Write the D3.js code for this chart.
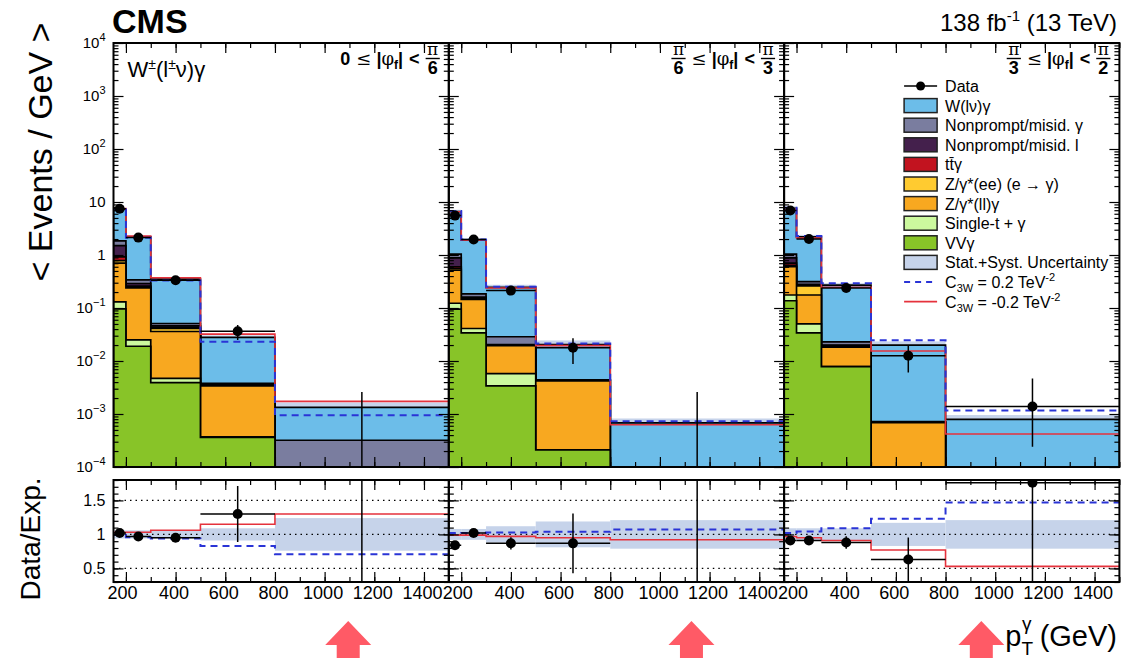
<!DOCTYPE html>
<html>
<head>
<meta charset="utf-8">
<script src="https://cdn.jsdelivr.net/npm/d3@7"></script>
<style>
  body { margin: 0; background: #fff; }
  svg { font-family: "Liberation Sans", Arial, Helvetica, sans-serif; }
</style>
</head>
<body>
<svg id="chart" width="1122" height="658"></svg>
<script>
// ---- binning and labels ----
const binEdges = [150, 200, 300, 500, 800, 1500];
const xTickLabels = [200, 400, 600, 800, 1000, 1200, 1400];
const yDecades = [-4, -3, -2, -1, 0, 1, 2, 3, 4];
const ratioTicks = [0.5, 1, 1.5];
// |phi_f| slices: lower / upper bound as numerator over denominator
const phiLowNum = ["0", "π", "π"];
const phiLowDen = [null, "6", "3"];
const phiHighNum = ["π", "π", "π"];
const phiHighDen = ["6", "3", "2"];

// ---- expected yields (events / GeV), one row per |phi_f| slice ----
const vvg     = [[0.096, 0.019, 0.0039, 0.00036, 0.00002], [0.095, 0.034, 0.0034, 0.00021, 0.00001], [0.137, 0.034, 0.0078, 0.00008, 0.00001]];
const singleT = [[0.034, 0.006, 0.0008, 0.00001, 0], [0.028, 0.007, 0.0024, 0, 0], [0.039, 0.016, 0, 0, 0]];
const zllg    = [[0.57, 0.215, 0.0313, 0.00303, 0.00001], [0.397, 0.104, 0.0137, 0.00399, 0.00001], [0.424, 0.126, 0.0105, 0.00061, 0.00001]];
const zee     = [[0.08, 0.01, 0.005, 0.0001, 0], [0.04, 0.005, 0.0003, 0.0001, 0], [0.04, 0.084, 0.0007, 0.00001, 0]];
const ttg     = [[0.14, 0.01, 0.002, 0.0001, 0], [0.04, 0.005, 0.0002, 0, 0], [0.06, 0.01, 0.0005, 0, 0]];
const npLep   = [[0.58, 0.03, 0.003, 0.0001, 0.00001], [0.28, 0.005, 0.0005, 0.0001, 0], [0.18, 0.01, 0.0005, 0, 0]];
const npPho   = [[0.35, 0.05, 0.005, 0.0001, 0.00028], [0.16, 0.024, 0.0082, 0, 0.00001], [0.16, 0.034, 0.003, 0.00002, 0.00001]];
const wlvg    = [[5.45, 1.86, 0.299, 0.0242, 0.00101], [5.56, 1.736, 0.2163, 0.0161, 0.00065], [6.56, 1.886, 0.247, 0.01928, 0.00076]];

// relative stat.+syst. uncertainty on the total expectation
const relUnc = [[0.06, 0.06, 0.06, 0.09, 0.24], [0.08, 0.08, 0.12, 0.19, 0.21], [0.09, 0.09, 0.09, 0.17, 0.21]];

// observed data (events / GeV) with errors
const dataVal   = [[7.45, 2.13, 0.333, 0.0364, 0], [5.54, 1.96, 0.213, 0.0178, 0], [6.92, 2.0, 0.238, 0.0126, 0.00139]];
const dataErrUp = [[0.12, 0.07, 0.02, 0.0115, 0.0026], [0.11, 0.07, 0.022, 0.009, 0.0026], [0.12, 0.07, 0.025, 0.0065, 0.0033]];
const dataErrDn = [[0.12, 0.07, 0.02, 0.0115, 0], [0.11, 0.07, 0.022, 0.009, 0], [0.12, 0.07, 0.025, 0.0065, 0.00115]];

// EFT predictions
const c3wPos = [[7.23, 2.11, 0.329, 0.0232, 0.000944], [6.73, 1.96, 0.252, 0.0213, 0.000728], [7.75, 2.29, 0.294, 0.0246, 0.00116]];
const c3wNeg = [[7.52, 2.27, 0.371, 0.0322, 0.00173], [6.53, 1.90, 0.238, 0.0195, 0.000626], [7.37, 2.09, 0.246, 0.0154, 0.000419]];

// annotation arrows below the axis (GeV position per slice)
const arrowAt = [1095, 1127, 944];

// stacking order: bottom to top
const stackOrder = [
  { values: vvg,     color: "#88c428" },
  { values: singleT, color: "#ccf99e" },
  { values: zllg,    color: "#f8a820" },
  { values: zee,     color: "#ffcb30" },
  { values: ttg,     color: "#c2131f" },
  { values: npLep,   color: "#44204c" },
  { values: npPho,   color: "#7a7d9f" },
  { values: wlvg,    color: "#6cbde9" }
];

const legendItems = [
  { kind: "data", label: "Data" },
  { kind: "box", color: "#6cbde9", label: "W(lν)γ" },
  { kind: "box", color: "#7a7d9f", label: "Nonprompt/misid. γ" },
  { kind: "box", color: "#44204c", label: "Nonprompt/misid. l" },
  { kind: "box", color: "#c2131f", label: "tt̄γ" },
  { kind: "box", color: "#ffcb30", label: "Z/γ*(ee) (e → γ)" },
  { kind: "box", color: "#f8a820", label: "Z/γ*(ll)γ" },
  { kind: "box", color: "#ccf99e", label: "Single-t + γ" },
  { kind: "box", color: "#88c428", label: "VVγ" },
  { kind: "box", color: "#c6d3ea", label: "Stat.+Syst. Uncertainty" },
  { kind: "dash", label: "C", sub: "3W", rest: " = 0.2 TeV", sup: "-2" },
  { kind: "line", label: "C", sub: "3W", rest: " = -0.2 TeV", sup: "-2" }
];

// ---- geometry ----
const panelX0 = 113.5, panelW = 335.3;
const mainTop = 43, mainBot = 467, ratTop = 480, ratBot = 582;
const bandColor = "#c6d3ea", redColor = "#e5323c", blueColor = "#2a34d6";
const symbolFont = '"DejaVu Serif", "Liberation Serif", serif';

const svg = d3.select("#chart");
const x = d3.scaleLinear().domain([150, 1500]).range([0, panelW]);
const y = d3.scaleLog().domain([1e-4, 1e4]).range([mainBot, mainTop]).clamp(true);
const yr = d3.scaleLinear().domain([0.3, 1.8]).range([ratBot, ratTop]).clamp(true);
const floorV = v => Math.max(v, 1e-6);

const defs = svg.append("defs");
defs.append("clipPath").attr("id", "clipMain").append("rect")
  .attr("x", 0).attr("y", mainTop).attr("width", panelW).attr("height", mainBot - mainTop);
defs.append("clipPath").attr("id", "clipRatio").append("rect")
  .attr("x", 0).attr("y", ratTop).attr("width", panelW).attr("height", ratBot - ratTop);

const stepArea = d3.area().curve(d3.curveStepAfter)
  .x(d => x(d[0])).y0(mainBot).y1(d => y(floorV(d[1])));
const stepLineMain = d3.line().curve(d3.curveStepAfter)
  .x(d => x(d[0])).y(d => y(floorV(d[1])));
const stepLineRatio = d3.line().curve(d3.curveStepAfter)
  .x(d => x(d[0])).y(d => yr(d[1]));
const edgePoints = vals => binEdges.map((e, i) => [e, vals[Math.min(i, vals.length - 1)]]);

const minorX = d3.range(200, 1501, 100);
const minorY = [];
yDecades.slice(0, -1).forEach(p => { for (let k = 2; k <= 9; k++) minorY.push(k * Math.pow(10, p)); });
const minorR = d3.range(0.3, 1.801, 0.1).map(v => +v.toFixed(2));

function tickAxes(g, yScale, major, minor, top, bot, bigLen, smallLen) {
  const strip = sel => sel.select(".domain").remove();
  const style = sel => sel.selectAll("line").attr("stroke", "#000").attr("stroke-width", 1.2);
  // x ticks, bottom and top, pointing inward
  [[bot, d3.axisBottom], [top, d3.axisTop]].forEach(([yy, fn]) => {
    g.append("g").attr("transform", `translate(0,${yy})`)
      .call(fn(x).tickValues(xTickLabels).tickSize(-bigLen).tickFormat("")).call(strip).call(style);
    g.append("g").attr("transform", `translate(0,${yy})`)
      .call(fn(x).tickValues(minorX).tickSize(-smallLen).tickFormat("")).call(strip).call(style);
  });
  // y ticks, left and right, pointing inward
  [[0, d3.axisLeft], [panelW, d3.axisRight]].forEach(([xx, fn]) => {
    g.append("g").attr("transform", `translate(${xx},0)`)
      .call(fn(yScale).tickValues(major).tickSize(-bigLen).tickFormat("")).call(strip).call(style);
    g.append("g").attr("transform", `translate(${xx},0)`)
      .call(fn(yScale).tickValues(minor).tickSize(-smallLen).tickFormat("")).call(strip).call(style);
  });
}

// "a ≤ |φ_f| < b" with stacked fractions, right aligned in the panel corner
function phiLabel(g, p) {
  const lab = g.append("g").attr("font-weight", "bold").attr("fill", "#000");
  const base = 65;
  let cur = 0;
  const word = (s, size, yy, opts = {}) => {
    const t = lab.append("text").attr("x", cur).attr("y", yy).attr("font-size", size).text(s);
    if (opts.serif) t.attr("font-family", symbolFont).attr("font-weight", "normal");
    cur += t.node().getComputedTextLength();
  };
  const frac = (num, den) => {
    const t1 = lab.append("text").attr("y", 55).attr("font-size", 17).attr("text-anchor", "middle").text(num);
    if (num === "π") t1.attr("font-family", symbolFont).attr("font-weight", "normal");
    const t2 = lab.append("text").attr("y", 74).attr("font-size", 18).attr("text-anchor", "middle").text(den);
    const w = Math.max(t1.node().getComputedTextLength(), t2.node().getComputedTextLength()) + 3;
    t1.attr("x", cur + w / 2);
    t2.attr("x", cur + w / 2);
    lab.append("line").attr("x1", cur).attr("x2", cur + w).attr("y1", 58.5).attr("y2", 58.5)
      .attr("stroke", "#000").attr("stroke-width", 1.4);
    cur += w;
  };
  if (phiLowDen[p] === null) word(phiLowNum[p], 18, base); else frac(phiLowNum[p], phiLowDen[p]);
  cur += 6; word("≤", 18, base, { serif: true });
  cur += 5; word("|", 18, base); word("φ", 18, base, { serif: true }); word("f", 12, base + 4); word("|", 18, base);
  cur += 6; word("<", 18, base);
  cur += 6; frac(phiHighNum[p], phiHighDen[p]);
  lab.attr("transform", `translate(${panelW - 9 - cur},0)`);
}

for (let p = 0; p < 3; p++) {
  const g = svg.append("g").attr("transform", `translate(${panelX0 + p * panelW},0)`);
  const nb = binEdges.length - 1;
  // cumulative stack
  const cum = [];
  let run = new Array(nb).fill(0);
  stackOrder.forEach(s => {
    run = run.map((v, i) => v + s.values[p][i]);
    cum.push(run.slice());
  });
  const total = cum[cum.length - 1];

  // ---------- main panel ----------
  const gm = g.append("g").attr("clip-path", "url(#clipMain)");
  // uncertainty band (sits behind the stack)
  gm.selectAll("rect.band").data(d3.range(nb)).join("rect").attr("class", "band")
    .attr("x", i => x(binEdges[i])).attr("width", i => x(binEdges[i + 1]) - x(binEdges[i]))
    .attr("y", i => y(total[i] * (1 + relUnc[p][i])))
    .attr("height", i => y(floorV(total[i] * (1 - relUnc[p][i]))) - y(total[i] * (1 + relUnc[p][i])))
    .attr("fill", bandColor);
  // stacked histograms, drawn from the largest cumulative down
  for (let k = cum.length - 1; k >= 0; k--) {
    gm.append("path").datum(edgePoints(cum[k])).attr("d", stepArea)
      .attr("fill", stackOrder[k].color).attr("stroke", "#000").attr("stroke-width", 1.7);
  }
  // EFT lines
  gm.append("path").datum(edgePoints(c3wNeg[p])).attr("d", stepLineMain)
    .attr("fill", "none").attr("stroke", redColor).attr("stroke-width", 1.6);
  gm.append("path").datum(edgePoints(c3wPos[p])).attr("d", stepLineMain)
    .attr("fill", "none").attr("stroke", blueColor).attr("stroke-width", 2).attr("stroke-dasharray", "7,5");
  // data
  for (let i = 0; i < nb; i++) {
    const xc = x((binEdges[i] + binEdges[i + 1]) / 2);
    const v = dataVal[p][i];
    gm.append("line").attr("x1", xc).attr("x2", xc)
      .attr("y1", y(floorV(v - dataErrDn[p][i]))).attr("y2", y(v + dataErrUp[p][i]))
      .attr("stroke", "#000").attr("stroke-width", 1.5);
    if (v > 0) {
      gm.append("line").attr("x1", x(binEdges[i])).attr("x2", x(binEdges[i + 1]))
        .attr("y1", y(v)).attr("y2", y(v)).attr("stroke", "#000").attr("stroke-width", 1.5);
      gm.append("circle").attr("cx", xc).attr("cy", y(v)).attr("r", 5).attr("fill", "#000");
    }
  }
  tickAxes(g, y, yDecades.map(d => Math.pow(10, d)), minorY, mainTop, mainBot, 10, 5);
  g.append("rect").attr("x", 0).attr("y", mainTop).attr("width", panelW).attr("height", mainBot - mainTop)
    .attr("fill", "none").attr("stroke", "#000").attr("stroke-width", 2);

  // ---------- ratio panel ----------
  const gr = g.append("g").attr("clip-path", "url(#clipRatio)");
  gr.selectAll("rect.band").data(d3.range(nb)).join("rect").attr("class", "band")
    .attr("x", i => x(binEdges[i])).attr("width", i => x(binEdges[i + 1]) - x(binEdges[i]))
    .attr("y", i => yr(1 + relUnc[p][i])).attr("height", i => yr(1 - relUnc[p][i]) - yr(1 + relUnc[p][i]))
    .attr("fill", bandColor);
  gr.selectAll("line.grid").data(ratioTicks).join("line").attr("class", "grid")
    .attr("x1", 0).attr("x2", panelW).attr("y1", d => yr(d)).attr("y2", d => yr(d))
    .attr("stroke", "#000").attr("stroke-width", 1.3).attr("stroke-dasharray", "1.5,4");
  gr.append("path").datum(edgePoints(c3wNeg[p].map((v, i) => v / total[i]))).attr("d", stepLineRatio)
    .attr("fill", "none").attr("stroke", redColor).attr("stroke-width", 1.6);
  gr.append("path").datum(edgePoints(c3wPos[p].map((v, i) => v / total[i]))).attr("d", stepLineRatio)
    .attr("fill", "none").attr("stroke", blueColor).attr("stroke-width", 2).attr("stroke-dasharray", "7,5");
  for (let i = 0; i < nb; i++) {
    const xc = x((binEdges[i] + binEdges[i + 1]) / 2);
    const r = dataVal[p][i] / total[i];
    const up = (dataVal[p][i] + dataErrUp[p][i]) / total[i];
    const dn = (dataVal[p][i] - dataErrDn[p][i]) / total[i];
    gr.append("line").attr("x1", xc).attr("x2", xc).attr("y1", yr(dn)).attr("y2", yr(up))
      .attr("stroke", "#000").attr("stroke-width", 1.5);
    if (dataVal[p][i] > 0) {
      gr.append("line").attr("x1", x(binEdges[i])).attr("x2", x(binEdges[i + 1]))
        .attr("y1", yr(r)).attr("y2", yr(r)).attr("stroke", "#000").attr("stroke-width", 1.5);
      gr.append("circle").attr("cx", xc).attr("cy", yr(r)).attr("r", 5).attr("fill", "#000");
    }
  }
  tickAxes(g, yr, ratioTicks, minorR, ratTop, ratBot, 10, 5);
  g.append("rect").attr("x", 0).attr("y", ratTop).attr("width", panelW).attr("height", ratBot - ratTop)
    .attr("fill", "none").attr("stroke", "#000").attr("stroke-width", 2);

  // x tick labels
  const xl = g.append("g").attr("transform", `translate(0,${ratBot})`)
    .call(d3.axisBottom(x).tickValues(xTickLabels).tickSize(0).tickPadding(4).tickFormat(d3.format("d")));
  xl.select(".domain").remove();
  xl.selectAll("text").attr("font-size", 18).attr("fill", "#000").attr("dx", d => d === 200 ? -4 : -2)
    .attr("font-family", '"Liberation Sans", Arial, sans-serif');

  phiLabel(g, p);

  // arrow annotation under the axis
  const ax = x(arrowAt[p]);
  svg.append("path")
    .attr("d", `M${panelX0 + p * panelW + ax},621 l23,24 h-11.5 v13 h-23 v-13 h-11.5 z`)
    .attr("fill", "#ff5a66");

  // y-axis labels on the first slice
  if (p === 0) {
    yDecades.forEach(d => {
      const t = svg.append("text").attr("x", panelX0 - 8).attr("y", y(Math.pow(10, d)) + 5)
        .attr("text-anchor", "end").attr("font-size", 15).attr("fill", "#000");
      if (d === 0) t.text("1");
      else if (d === 1) t.text("10");
      else {
        t.append("tspan").text("10");
        t.append("tspan").attr("font-size", 11).attr("dy", -7).text(d < 0 ? "−" + (-d) : d);
      }
    });
    ratioTicks.forEach(v => {
      svg.append("text").attr("x", panelX0 - 8).attr("y", yr(v) + 6)
        .attr("text-anchor", "end").attr("font-size", 16).attr("fill", "#000").text(v);
    });
  }

  // process label and legend
  if (p === 0) {
    const t = g.append("text").attr("x", 14).attr("y", 77).attr("font-size", 22).attr("fill", "#000");
    t.append("tspan").text("W");
    t.append("tspan").attr("font-size", 14).attr("dy", -8).text("±");
    t.append("tspan").attr("dy", 8).text("(l");
    t.append("tspan").attr("font-size", 14).attr("dy", -8).text("±");
    t.append("tspan").attr("dy", 8).text("ν)γ");
  }
  if (p === 2) {
    const lg = g.append("g").attr("font-size", 16).attr("fill", "#000");
    const bx = 120, bw = 33, bh = 14, tx = 161, y0 = 86, dy = 19.6;
    legendItems.forEach((it, j) => {
      const yy = y0 + j * dy;
      if (it.kind === "data") {
        lg.append("line").attr("x1", bx).attr("x2", bx + bw).attr("y1", yy).attr("y2", yy)
          .attr("stroke", "#000").attr("stroke-width", 1.5);
        lg.append("circle").attr("cx", bx + bw / 2).attr("cy", yy).attr("r", 4.5).attr("fill", "#000");
      } else if (it.kind === "box") {
        lg.append("rect").attr("x", bx).attr("y", yy - bh / 2).attr("width", bw).attr("height", bh)
          .attr("fill", it.color).attr("stroke", "#222").attr("stroke-width", 1.5);
      } else {
        lg.append("line").attr("x1", bx).attr("x2", bx + bw).attr("y1", yy).attr("y2", yy)
          .attr("stroke", it.kind === "dash" ? blueColor : redColor).attr("stroke-width", it.kind === "dash" ? 2 : 1.6)
          .attr("stroke-dasharray", it.kind === "dash" ? "6,5" : null);
      }
      const t = lg.append("text").attr("x", tx).attr("y", yy + 6);
      t.append("tspan").text(it.label);
      if (it.sub) {
        t.append("tspan").attr("font-size", 11).attr("dy", 4).text(it.sub);
        t.append("tspan").attr("dy", -4).text(it.rest);
        t.append("tspan").attr("font-size", 11).attr("dy", -7).text(it.sup);
      }
    });
  }
}

// ---- titles ----
svg.append("text").attr("x", 112).attr("y", 33).attr("font-size", 34).attr("font-weight", "bold").text("CMS");
const lumi = svg.append("text").attr("x", 1117).attr("y", 31).attr("text-anchor", "end").attr("font-size", 24);
lumi.append("tspan").text("138 fb");
lumi.append("tspan").attr("font-size", 15).attr("dy", -10).text("-1");
lumi.append("tspan").attr("dy", 10).text(" (13 TeV)");

svg.append("text").attr("transform", "translate(52,152) rotate(-90)").attr("text-anchor", "middle")
  .attr("font-size", 34).text("< Events / GeV >");
svg.append("text").attr("transform", "translate(40,539) rotate(-90)").attr("text-anchor", "middle")
  .attr("font-size", 28).text("Data/Exp.");

const xt = svg.append("text").attr("x", 1117).attr("y", 646).attr("text-anchor", "end").attr("font-size", 29);
xt.append("tspan").text("p");
xt.append("tspan").attr("font-size", 19).attr("dy", 9).text("T");
xt.append("tspan").attr("font-size", 19).attr("dx", -11).attr("dy", -25).text("γ");
xt.append("tspan").attr("dy", 16).text(" (GeV)");
</script>
</body>
</html>
